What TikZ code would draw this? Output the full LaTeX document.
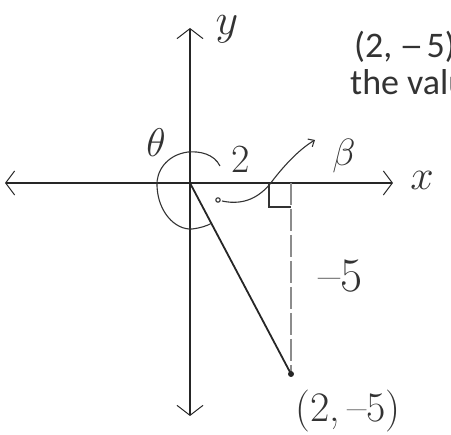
\RequirePackage{fix-cm}
\documentclass[tikz,border=0pt]{standalone}
\usepackage{fontspec}
\newfontfamily\calfont{Carlito}
\usetikzlibrary{arrows.meta}
\begin{document}
\begin{tikzpicture}[x=1pt,y=-1pt,
  axis/.style={line width=1.4pt,black!85},
  hand/.style={text=black!80,inner sep=0pt},
  print/.style={font=\calfont\fontsize{36}{36}\selectfont,text=black!80,anchor=west,inner sep=0pt},
  thin/.style={line width=1.1pt,black!80}]
\useasboundingbox (0,0) rectangle (451,435);
\coordinate (O) at (190,183);
\coordinate (xl) at (5,183);
\coordinate (xr) at (393,183);
\coordinate (yt) at (190,28);
\coordinate (yb) at (190,416);
\coordinate (P) at (291,374);
\coordinate (F) at (291,183);
\draw[axis,{Straight Barb[length=9pt,width=24pt,line width=1pt]}-{Straight Barb[length=9pt,width=24pt,line width=1pt]}] (xl) -- (xr);
\draw[axis,{Straight Barb[length=10pt,width=26pt,line width=1pt]}-{Straight Barb[length=10pt,width=26pt,line width=1pt]}] (yt) -- (yb);
\node[hand,font=\fontsize{44}{44}\selectfont] (ylab) at (227,29) {$y$};
\node[hand,font=\fontsize{42}{42}\selectfont] (xlab) at (422,180) {$x$};
\node[print] (pt1) at (354,47) {(2,\kern7pt\scalebox{1.35}[1]{–}\kern3pt5)};
\node[print] (val) at (350,82) {the values};
% right angle
\draw[thin] (269,183) -- (269,207) -- (F |- 0,207);
\draw[line width=1.2pt,black!45,dash pattern=on 22pt off 4pt] (F) -- (P);
% terminal side
\draw[line width=1.8pt,black!85] (O) -- (P);
\fill[black!85] (P) circle (3pt);
% theta arc
\draw[thin] (220,166) .. controls (214,154) and (200,151) .. (188,152)
  .. controls (166,155) and (156,172) .. (157,186)
  .. controls (158,212) and (175,230) .. (192,229)
  .. controls (200,228) and (207,226) .. (212,223);
% beta arrow
\draw[thin] (218,200) circle (2.2pt);
\draw[thin,-{Straight Barb[length=5pt,width=9pt]}] (222,201) .. controls (245,206) and (260,196) .. (270,184)
  .. controls (282,168) and (298,150) .. (315,140);
\node[hand,font=\fontsize{40}{40}\selectfont] (th) at (156,143) {$\theta$};
\node[hand,font=\fontsize{40}{40}\selectfont] (two) at (241,159) {2};
\node[hand,font=\fontsize{38}{38}\selectfont] (be) at (344,156) {$\beta$};
\node[hand,font=\fontsize{48}{48}\selectfont] (m5) at (341,276) {–5};
\node[hand,font=\fontsize{42}{42}\selectfont] (pt2) at (348,411) {(2,\,–5)};
\end{tikzpicture}
\end{document}
